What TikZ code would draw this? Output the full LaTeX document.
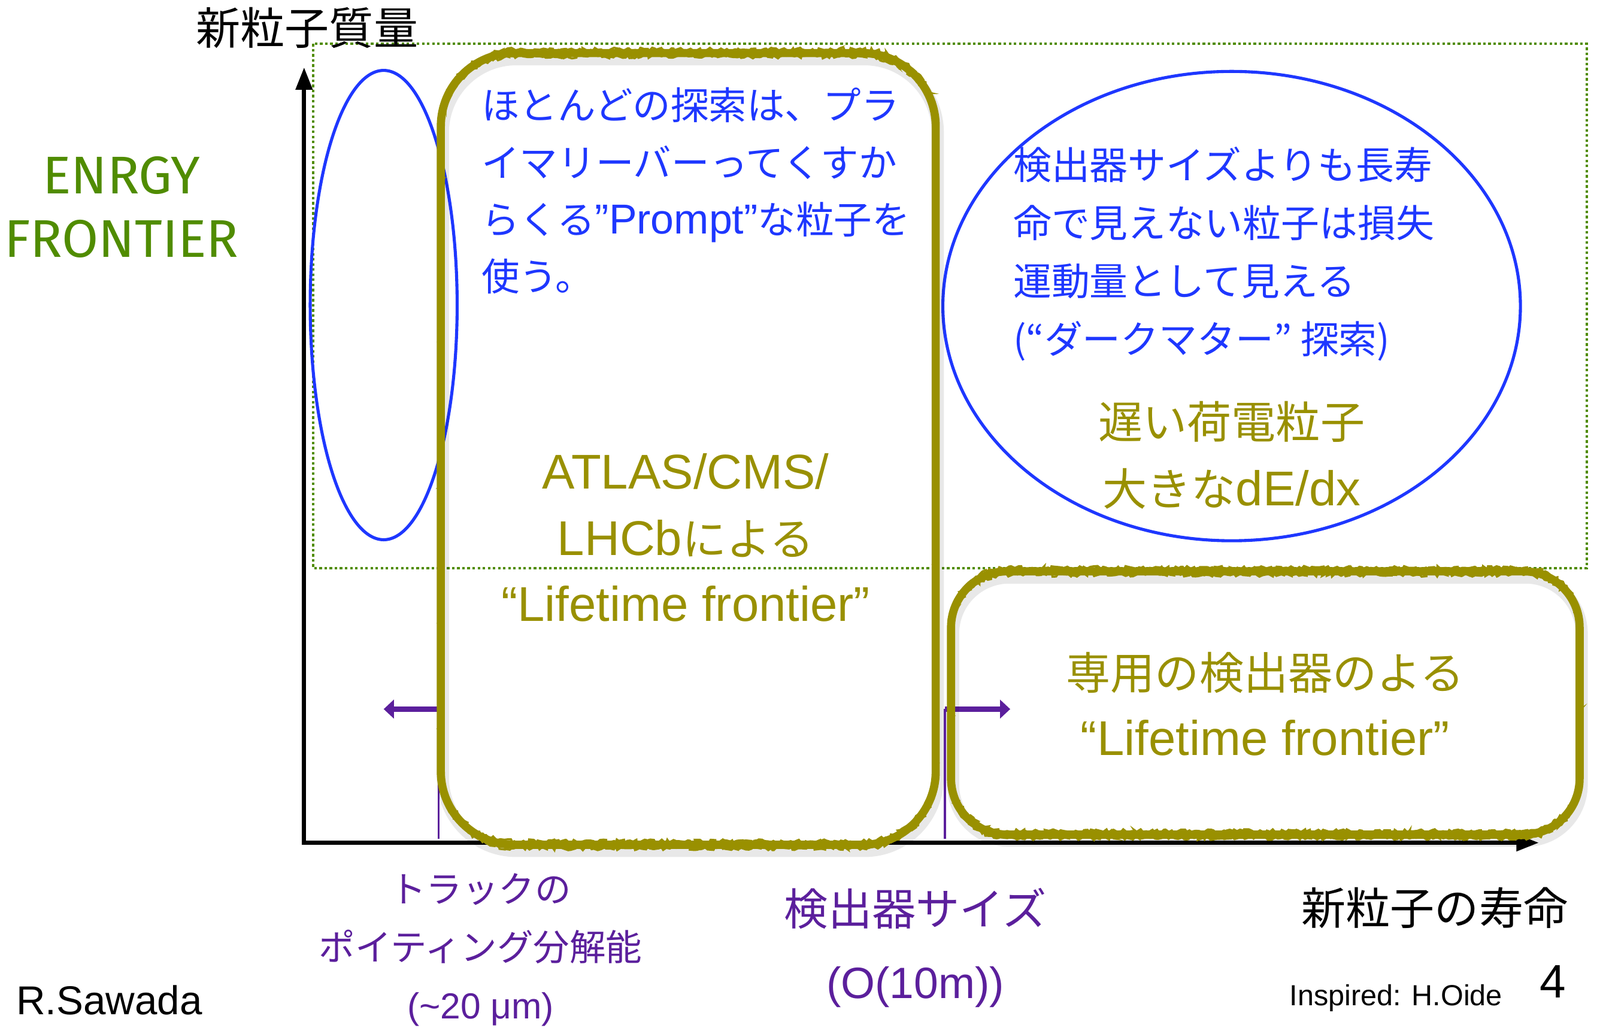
\documentclass[tikz,border=0pt]{standalone}
\usepackage{fontspec}
\setmainfont{Noto Sans CJK JP}
\newfontfamily\latfont{Liberation Sans}
\newfontfamily\ltn{Liberation Sans}[Scale=1.1]
\newfontfamily\handfont{Fira Sans}
\usetikzlibrary{arrows.meta,decorations.pathmorphing,shapes.geometric}
\definecolor{myblue}{RGB}{30,55,255}
\definecolor{myolive}{RGB}{153,144,0}
\definecolor{mygreen}{RGB}{80,140,0}
\definecolor{mypurple}{RGB}{91,31,156}
\newcommand\fsz[2]{\fontsize{#1}{#2}\selectfont}
\begin{document}
\begin{tikzpicture}[x=1pt,y=-1pt,
  txt/.style={inner sep=0pt,outer sep=0pt},
  axisline/.style={line width=4pt,black,{Triangle[length=22pt,width=16pt]}-{Triangle[length=22pt,width=16pt]}},
  ellblue/.style={draw=myblue,line width=3pt,ellipse,inner sep=0pt},
  rrect/.style n args={5}{insert path={(#1+#5,#2) -- (#3-#5,#2) arc(270:360:#5) -- (#3,#4-#5) arc(0:90:#5)
      -- (#1+#5,#4) arc(90:180:#5) -- (#1,#2+#5) arc(180:270:#5) -- cycle}},
  handbox/.style={draw=myolive,line width=8pt},
  handtex/.style={draw=myolive,line width=2pt,
     decorate,decoration={random steps,segment length=2.5pt,amplitude=1.8pt}},
  handshadow/.style={draw=black,opacity=0.09,line width=12pt},
  purline/.style={draw=mypurple,line width=2pt},
  purarrow/.style={draw=mypurple,line width=5pt,-{Triangle[length=10pt,width=18pt]}},
]
\useasboundingbox (0,0) rectangle (1568,1010);
\fill[white] (0,0) rectangle (1568,1010);

% energy frontier region
\draw[mygreen,line width=2.5pt,dash pattern=on 2.5pt off 2.5pt] (307,43) rectangle (1555,557);

% axes
\coordinate (O) at (298,826);
\coordinate (ytop) at (298,66);
\coordinate (xend) at (1508,826);
\draw[axisline] (ytop) -- (O) -- (xend);

% blue ellipses
\node[ellblue,minimum width=144pt,minimum height=460pt] (eleft) at (376,299) {};
\node[ellblue,minimum width=566pt,minimum height=460pt] (eright) at (1207,300) {};

% purple arrows
\coordinate (la0) at (430,822);
\coordinate (la1) at (430,695);
\coordinate (la2) at (376,695);
\coordinate (ra0) at (926,822);
\coordinate (ra1) at (926,695);
\coordinate (ra2) at (990,695);
\draw[purline] (la0) -- (la1);
\draw[purarrow] (la1) -- (la2);
\draw[purline] (ra0) -- (ra1);
\draw[purarrow] (ra1) -- (ra2);

% hand-drawn boxes
\path[handshadow,rrect={434}{58}{919}{834}{72}];
\path[handbox,rrect={432}{52}{917}{828}{72}];
\path[handtex,rrect={432}{48.5}{917}{824.5}{72}];
\path[handtex,rrect={432}{55.5}{917}{831.5}{72}];
\path[handshadow,rrect={934}{566}{1550}{824}{55}];
\path[handbox,rrect={932}{560}{1548}{818}{55}];
\path[handtex,rrect={932}{556.5}{1548}{814.5}{55}];
\path[handtex,rrect={932}{563.5}{1548}{821.5}{55}];

% texts
\node[txt,font=\fsz{43.5}{50}] (ylabel) at (301,27) {新粒子質量};
\node[txt,align=center,text=mygreen,font=\handfont\fsz{52}{62}] (energy) at (119,203) {ENRGY\\FRONTIER};

\node[txt,align=left,anchor=west,text=myblue,font=\fsz{37.3}{56}] (prompt) at (472,187)
  {ほとんどの探索は、プラ\\イマリーバーってくすか\\らくる{\ltn ”Prompt”}な粒子を\\使う。};
\node[txt,align=center,text=myolive,font=\fsz{43.5}{65}] (atlas) at (672,527)
  {{\ltn ATLAS/CMS/}\\{\ltn LHCb}による\\{\ltn “Lifetime frontier”}};

\node[txt,align=left,anchor=west,text=myblue,font=\fsz{37.5}{57}] (dark) at (993,249)
  {検出器サイズよりも長寿\\命で見えない粒子は損失\\運動量として見える\\(“ダークマター” 探索)};
\node[txt,align=center,text=myolive,font=\fsz{43.5}{66}] (slow) at (1207,446)
  {遅い荷電粒子\\大きな{\ltn dE/dx}};

\node[txt,align=center,text=myolive,font=\fsz{43.5}{65}] (dedicated) at (1240,690)
  {専用の検出器のよる\\{\ltn “Lifetime frontier”}};

\node[txt,align=center,text=mypurple,font=\fsz{35.5}{57}] (pointing) at (471,931)
  {トラックの\\ポイティング分解能\\{\latfont (\textasciitilde20 μm)}};
\node[txt,align=center,text=mypurple,font=\fsz{43}{72}] (detsize) at (897,929)
  {検出器サイズ\\{\latfont (O(10m))}};

\node[txt,font=\fsz{43.5}{50}] (xlabel) at (1406,890) {新粒子の寿命};
\node[txt,font=\latfont\fsz{46}{50}] (pagenum) at (1522,962) {4};
\node[txt,font=\latfont\fsz{28.5}{30}] (inspired) at (1368,978) {Inspired: H.Oide};
\node[txt,font=\latfont\fsz{39.5}{40}] (author) at (107,980) {R.Sawada};
\end{tikzpicture}
\end{document}
